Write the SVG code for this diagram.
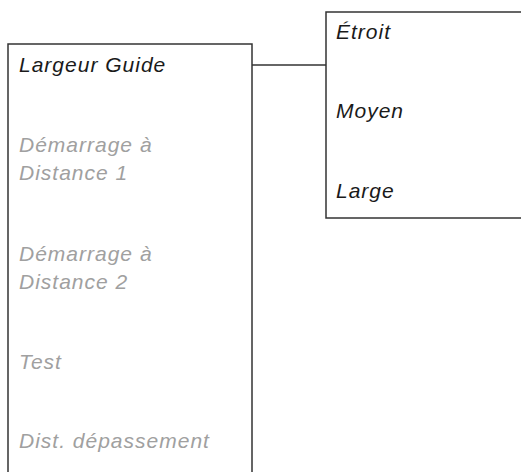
<svg xmlns="http://www.w3.org/2000/svg" width="521" height="472" viewBox="0 0 521 472">
<style>
.box{fill:#fff;stroke:#333;stroke-width:1.5}
.t{font-family:"Liberation Sans",Arial,sans-serif;font-style:italic;font-size:21px;letter-spacing:1px}
.on{fill:#1a1a1a}
.off{fill:#a0a0a0}
.conn{stroke:#333;stroke-width:1.5;fill:none}
</style>
<rect width="521" height="472" fill="#fff"/>
<g id="connectors">
<line class="conn" x1="252" y1="65" x2="326" y2="65"/>
</g>
<g id="menu">
<rect class="box" x="8" y="44" width="244" height="440"/>
<text class="t on" x="19" y="72">Largeur Guide</text>
<text class="t off" x="19" y="152">Démarrage à</text>
<text class="t off" x="19" y="180">Distance 1</text>
<text class="t off" x="19" y="261">Démarrage à</text>
<text class="t off" x="19" y="289">Distance 2</text>
<text class="t off" x="19" y="369">Test</text>
<text class="t off" x="19" y="448">Dist. dépassement</text>
</g>
<g id="submenu">
<rect class="box" x="326" y="12" width="210" height="206"/>
<text class="t on" x="336" y="39">Étroit</text>
<text class="t on" x="336" y="118">Moyen</text>
<text class="t on" x="336" y="198">Large</text>
</g>
</svg>
